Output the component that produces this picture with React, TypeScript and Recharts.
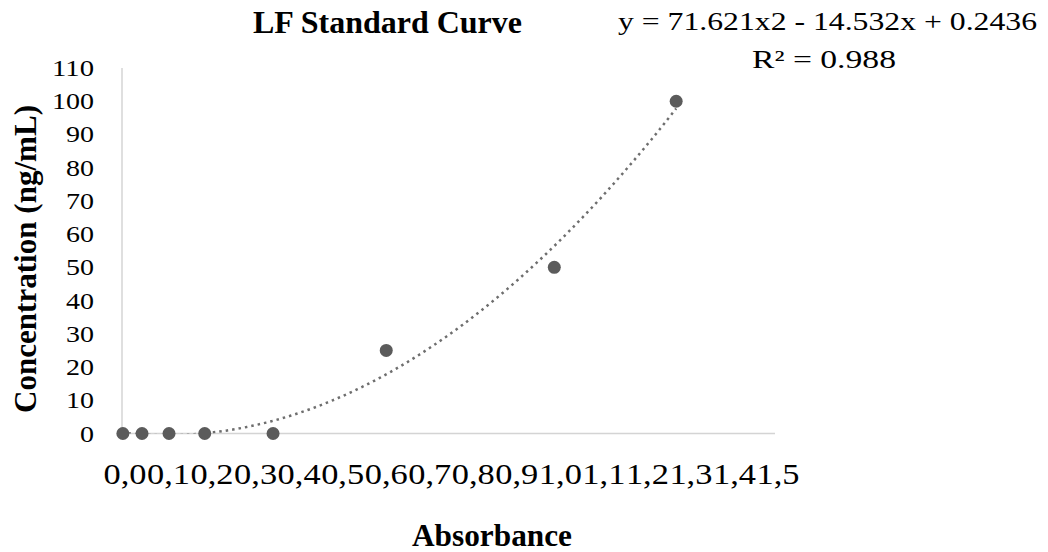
import React from 'react'
import { ScatterChart, Scatter, XAxis, YAxis } from 'recharts'

// standards: absorbance readings vs known concentration
const absorbance = [0.002, 0.046, 0.108, 0.19, 0.347, 0.607, 0.993, 1.273]
const concentration = [0, 0, 0, 0, 0, 25, 50, 100]

const xTicks = [0, 0.1, 0.2, 0.3, 0.4, 0.5, 0.6, 0.7, 0.8, 0.9, 1.0, 1.1, 1.2, 1.3, 1.4, 1.5]
const yTicks = [0, 10, 20, 30, 40, 50, 60, 70, 80, 90, 100, 110]

// second order polynomial fit, as printed next to the chart
const fitA = 71.621
const fitB = -14.532
const fitC = 0.2436
const equationText = 'y = 71.621x2 - 14.532x + 0.2436'
const r2Text = 'R² = 0.988'

const points = absorbance.map((x, i) => ({ x, y: concentration[i] }))

// trendline sampled over the range of the standards
const xMax = Math.max(...absorbance)
const trend: { x: number; y: number }[] = []
for (let i = 0; i <= 200; i++) {
  const x = (xMax * i) / 200
  trend.push({ x, y: fitA * x * x + fitB * x + fitC })
}

const serif = '"Liberation Serif", "Times New Roman", serif'
const axisGray = '#d4d4d4'
const markerGray = '#5b5b5b'

const XTick = (props: any) => {
  const { x, y, payload } = props
  return (
    <text
      x={x + 3}
      y={y + 50}
      textAnchor="middle"
      fontFamily={serif}
      fontSize={29}
      fill="#000"
      textLength={43}
      lengthAdjust="spacingAndGlyphs"
    >
      {payload.value.toFixed(1).replace('.', ',')}
    </text>
  )
}

const YTick = (props: any) => {
  const { y, payload } = props
  const label = String(payload.value)
  return (
    <text
      x={94}
      y={y + 8}
      textAnchor="end"
      fontFamily={serif}
      fontSize={23}
      fill="#000"
      textLength={label.length * 14}
      lengthAdjust="spacingAndGlyphs"
    >
      {label}
    </text>
  )
}

const Dot = (props: any) => <circle cx={props.cx} cy={props.cy} r={6.5} fill={markerGray} />
const NoDot = () => <g />

export default function App() {
  return (
    <div style={{ position: 'absolute', left: 0, top: 0, background: '#fff' }}>
      <ScatterChart width={1048} height={552} margin={{ top: 68, right: 273, bottom: 18.5, left: 22 }}>
        <XAxis
          type="number"
          dataKey="x"
          domain={[0, 1.5]}
          ticks={xTicks}
          interval={0}
          height={100}
          tickLine={false}
          tickSize={0}
          tickMargin={0}
          axisLine={{ stroke: axisGray, strokeWidth: 1.5 }}
          tick={<XTick />}
        />
        <YAxis
          type="number"
          dataKey="y"
          domain={[0, 110]}
          ticks={yTicks}
          interval={0}
          width={100}
          tickLine={false}
          tickSize={0}
          tickMargin={0}
          axisLine={{ stroke: axisGray, strokeWidth: 1.5 }}
          tick={<YTick />}
        />
        {/* hidden twin axis so only the trendline is clipped below zero */}
        <YAxis yAxisId="fit" type="number" dataKey="y" domain={[0, 110]} allowDataOverflow hide width={100} />
        <Scatter
          data={trend}
          yAxisId="fit"
          line={{ stroke: '#6e6e6e', strokeWidth: 2.5, strokeDasharray: '2.5 4' }}
          lineType="joint"
          shape={<NoDot />}
          isAnimationActive={false}
        />
        <Scatter data={points} shape={<Dot />} isAnimationActive={false} />

        <text x={253} y={33} fontFamily={serif} fontWeight="bold" fontSize={31} textLength={269} lengthAdjust="spacingAndGlyphs">
          LF Standard Curve
        </text>
        <text x={618} y={30} fontFamily={serif} fontSize={25} textLength={419} lengthAdjust="spacingAndGlyphs">
          {equationText}
        </text>
        <text x={752} y={68} fontFamily={serif} fontSize={25} textLength={144} lengthAdjust="spacingAndGlyphs">
          {r2Text}
        </text>
        <text x={412} y={546} fontFamily={serif} fontWeight="bold" fontSize={31} textLength={160} lengthAdjust="spacingAndGlyphs">
          Absorbance
        </text>
        <text
          transform="translate(36 259) rotate(-90)"
          textAnchor="middle"
          fontFamily={serif}
          fontWeight="bold"
          fontSize={31}
          textLength={308}
          lengthAdjust="spacingAndGlyphs"
        >
          Concentration (ng/mL)
        </text>
      </ScatterChart>
    </div>
  )
}
